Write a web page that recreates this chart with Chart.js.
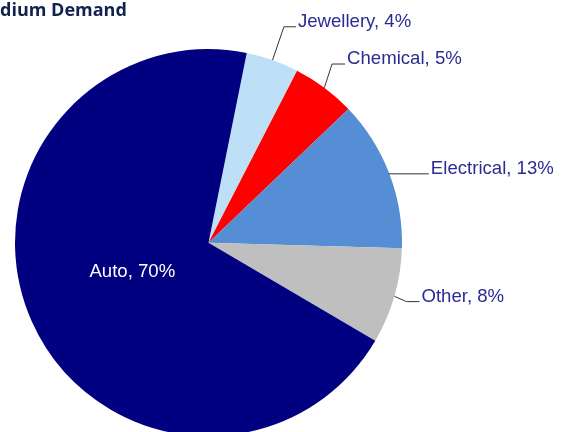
<!DOCTYPE html>
<html>
<head>
<meta charset="utf-8">
<script src="https://cdn.jsdelivr.net/npm/chart.js@4/dist/chart.umd.min.js"></script>
<style>
  html, body { margin: 0; padding: 0; background: #ffffff; overflow: hidden; }
  #wrap { position: absolute; left: 0; top: 0; width: 566px; height: 440px; }
</style>
</head>
<body>
<div id="wrap"><canvas id="c" width="566" height="440"></canvas></div>
<script>
// ---- data ----
const titleText = 'dium Demand';
const categories = ['Jewellery', 'Chemical', 'Electrical', 'Other', 'Auto'];
const shares = [4.4, 5.3, 12.6, 8.0, 69.7];
const colors = ['#bde0f7', '#ff0000', '#558ed5', '#bfbfbf', '#000080'];

// label layout: text start offset from slice edge midpoint, and horizontal leader length
const labelLayout = [
  { dx: 25.4, dy: -33.3, h: 12 },
  { dx: 22.7, dy: -23.7, h: 13 },
  { dx: 41.7, dy: 0.5,   h: 40 },
  { dx: 27.0, dy: 5.3,   h: 13 },
  { inside: true, r: 0.42, dx: -2, dy: -3.5 }
];

const labelPlugin = {
  id: 'pieLabels',
  afterDatasetsDraw(chart) {
    const ctx = chart.ctx;
    const meta = chart.getDatasetMeta(0);
    ctx.save();
    // title
    ctx.font = 'bold 18px "Open Sans"';
    ctx.fillStyle = '#10224f';
    ctx.textBaseline = 'alphabetic';
    ctx.textAlign = 'left';
    ctx.fillText(titleText, 0, 16);

    ctx.font = '18.6px "Liberation Sans", Arial, sans-serif';
    meta.data.forEach((arc, i) => {
      const p = arc.getProps(['x', 'y', 'startAngle', 'endAngle', 'outerRadius'], true);
      const mid = (p.startAngle + p.endAngle) / 2;
      const text = categories[i] + ', ' + Math.round(shares[i]) + '%';
      const lay = labelLayout[i];
      if (lay.inside) {
        const r = p.outerRadius * lay.r;
        ctx.fillStyle = '#ffffff';
        ctx.textAlign = 'center';
        ctx.textBaseline = 'middle';
        ctx.fillText(text, p.x + Math.cos(mid) * r + lay.dx, p.y + Math.sin(mid) * r + lay.dy);
        return;
      }
      const ex = p.x + Math.cos(mid) * p.outerRadius;
      const ey = p.y + Math.sin(mid) * p.outerRadius;
      const tx = ex + lay.dx;
      const ty = ey + lay.dy;
      ctx.strokeStyle = '#333333';
      ctx.lineWidth = 1;
      ctx.beginPath();
      ctx.moveTo(ex, ey);
      ctx.lineTo(tx - 2 - lay.h, ty);
      ctx.lineTo(tx - 2, ty);
      ctx.stroke();
      ctx.fillStyle = '#2b2b94';
      ctx.textAlign = 'left';
      ctx.textBaseline = 'alphabetic';
      ctx.fillText(text, tx, ty);
    });
    ctx.restore();
  }
};

new Chart(document.getElementById('c'), {
  type: 'pie',
  data: {
    labels: categories,
    datasets: [{
      data: shares,
      backgroundColor: colors,
      borderWidth: 0,
      hoverBorderWidth: 0,
      offset: 0,
      hoverOffset: 0
    }]
  },
  options: {
    responsive: false,
    animation: false,
    events: [],
    rotation: 11.4,
    radius: 193.5,
    layout: { padding: { left: 0, right: 149, top: 45.4, bottom: 0 } },
    plugins: {
      legend: { display: false },
      title: { display: false },
      tooltip: { enabled: false }
    }
  },
  plugins: [labelPlugin]
});
</script>
</body>
</html>
